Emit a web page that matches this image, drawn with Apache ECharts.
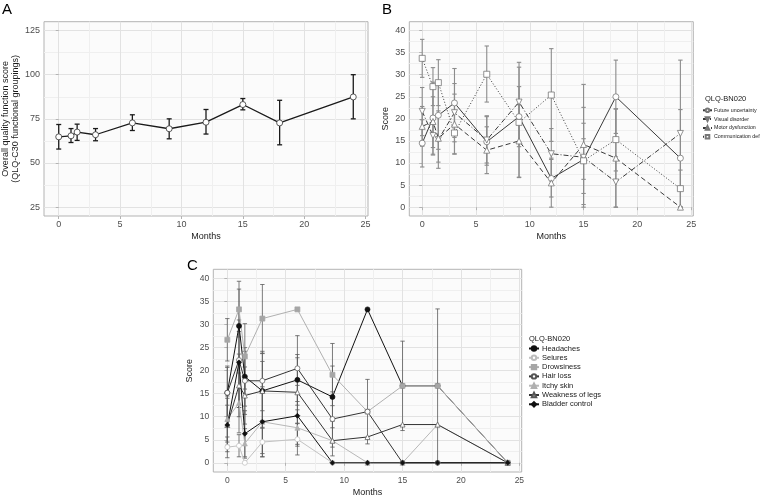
<!DOCTYPE html>
<html><head><meta charset="utf-8">
<script src="https://cdn.jsdelivr.net/npm/echarts@6/dist/echarts.min.js"></script>
<style>html,body{margin:0;padding:0;background:#fff}#c{width:760px;height:498px}</style>
</head><body><div id="c"></div>
<script>
// ---------- DATA ----------
const months = [0, 1, 1.5, 3, 6, 9, 12, 15, 18, 24];
const xTicks = [0, 5, 10, 15, 20, 25];
const xMinor = [2.5, 7.5, 12.5, 17.5, 22.5];
const aTicks = [25, 50, 75, 100, 125];
const aMinor = [37.5, 62.5, 87.5, 112.5];
const sTicks = [0, 5, 10, 15, 20, 25, 30, 35, 40];
const sMinor = [2.5, 7.5, 12.5, 17.5, 22.5, 27.5, 32.5, 37.5];

// Panel A
const aMean = [64.8, 65.4, 67.5, 66.0, 72.7, 69.4, 73.1, 83.1, 72.7, 87.4];
const aLow  = [57.9, 61.6, 62.8, 62.6, 68.4, 63.7, 66.4, 80.1, 60.3, 75.0];
const aHigh = [71.8, 69.5, 72.0, 69.5, 77.3, 75.0, 80.3, 86.5, 85.5, 100.0];

// Panel B
const bNames = ['Future uncertainty', 'Visual disorder', 'Motor dysfunction', 'Communication deficit'];
const bFuture = [14.5, 20.2, 20.8, 23.6, 14.8, 20.5, 6.5, 10.8, 25.0, 11.1];
const bVisual = [21.7, 16.2, 15.3, 21.4, 15.2, 23.8, 12.1, 11.3, 5.7, 16.7];
const bMotor  = [18.3, 19.4, 15.6, 18.8, 12.9, 15.0, 5.5, 14.2, 11.1, 0.0];
const bComm   = [33.7, 27.3, 28.2, 16.8, 30.1, 19.2, 25.4, 10.5, 15.3, 4.2];
const bFutureErr = [[9.1,19.8],[12.0,28.3],[13.1,28.5],[15.8,31.4],[9.5,20.7],[13.7,27.3],[2.3,10.8],[6.3,15.5],[16.7,33.3],[0,22.1]];
const bVisualErr = [[16.2,27.1],[11.8,20.6],[8.8,21.8],[14.8,28.0],[10.0,20.5],[14.8,32.8],[6.4,17.8],[0,22.6],[0,11.4],[0,33.3]];
const bMotorErr  = [[13.8,22.8],[13.5,25.0],[10.2,21.0],[12.0,25.6],[7.6,18.2],[6.8,23.2],[0,11.1],[0.6,27.8],[0,22.2],[0,0]];
const bCommErr   = [[29.4,38.0],[23.0,31.6],[23.0,33.4],[12.1,21.5],[23.8,36.5],[6.7,31.7],[14.9,35.9],[3.1,19.0],[8.2,22.3],[0,8.4]];

// Panel C
const cNames = ['Headaches', 'Seiures', 'Drowsiness', 'Hair loss', 'Itchy skin', 'Weakness of legs', 'Bladder control'];
const cHead   = [15.2, 29.7, 18.7, 15.6, 18.0, 14.3, 33.3, 16.7, 16.7, 0];
const cSeiz   = [3.4, 3.7, 0, 4.5, 5.1, 0, 0, 0, 0, 0];
const cDrow   = [26.7, 33.3, 23.1, 31.3, 33.3, 19.1, 11.1, 16.7, 16.7, 0];
const cHair   = [15.2, 22.3, 17.8, 17.8, 20.5, 9.5, 11.1, 0, 0, 0];
const cItchy  = [9.5, 13.0, 4.2, 8.9, 7.6, 4.8, 0, 0, 8.3, 0];
const cWeak   = [8.2, 16.8, 14.6, 15.6, 15.3, 4.8, 5.6, 8.3, 8.3, 0];
const cBlad   = [8.2, 21.8, 6.3, 8.9, 10.2, 0, 0, 0, 0, 0];
const cHeadErr  = [[9.2,21.0],[21.5,37.7],[12.3,25.0],[7.5,23.7],[12.5,23.5],[7.6,21.0],null,[7.0,26.4],[0,33.4],null];
const cSeizErr  = [[1.1,5.6],[1.3,6.1],null,[1.3,7.7],[1.7,8.5],null,null,null,null,null];
const cDrowErr  = [[22.1,31.3],[27.3,39.4],[16.0,30.2],[23.8,38.7],null,[12.4,25.9],null,null,null,null];
const cHairErr  = [[9.0,20.7],[12.0,28.5],[10.5,24.2],[11.3,24.2],[13.3,27.6],[3.4,15.4],[4.1,18.1],null,null,null];
const cItchyErr = [[4.5,14.5],[6.5,19.5],[1.0,7.4],[1.3,16.5],[4.0,11.5],null,null,null,null,null];
const cWeakErr  = [[3.8,12.5],[10.0,23.6],[8.4,20.8],[9.2,22.0],[8.6,22.8],[1.5,9.0],null,null,null,null];
const cBladErr  = [[2.4,14.0],[12.0,31.0],[1.3,11.3],[2.0,15.8],[3.6,16.8],null,null,null,null,null];

// ---------- HELPERS ----------
const pairs = (ys) => months.map((m, i) => [m, ys[i]]);
const errData = (lo, hi) => months.map((m, i) => [m, lo[i], hi[i]]);
const errData2 = (arr) => months.map((m, i) => arr[i] ? [m, arr[i][0], arr[i][1]] : null).filter(d => d);

function errRender(color, width, capW) {
  return function (params, api) {
    const x = api.value(0), lo = api.value(1), hi = api.value(2);
    const p1 = api.coord([x, lo]), p2 = api.coord([x, hi]);
    const style = { stroke: color, lineWidth: width, fill: null };
    return { type: 'group', children: [
      { type: 'line', shape: { x1: p1[0], y1: p1[1], x2: p2[0], y2: p2[1] }, style },
      { type: 'line', shape: { x1: p1[0] - capW, y1: p1[1], x2: p1[0] + capW, y2: p1[1] }, style },
      { type: 'line', shape: { x1: p2[0] - capW, y1: p2[1], x2: p2[0] + capW, y2: p2[1] }, style }
    ]};
  };
}

const FONT = 'Liberation Sans, Arial, sans-serif';
const gridStyle = { show: true, backgroundColor: '#fbfbfb', borderColor: '#b3b3b3', borderWidth: 1 };

function mainX(gi, labelSize) {
  return { type: 'value', gridIndex: gi, min: -1.2, max: 25.2,
    name: 'Months', nameLocation: 'middle', nameGap: 16,
    nameTextStyle: { fontFamily: FONT, fontSize: 9, color: '#1a1a1a' },
    axisLine: { show: false },
    axisTick: { show: true, length: 3, lineStyle: { color: '#b3b3b3' }, customValues: xTicks },
    axisLabel: { show: true, fontFamily: FONT, fontSize: labelSize, color: '#4d4d4d', margin: 4, customValues: xTicks },
    splitLine: { show: true, lineStyle: { color: '#e2e2e2', width: 1 } } };
}
function minorX(gi) {
  return { type: 'value', gridIndex: gi, min: -1.2, max: 25.2, position: 'bottom',
    axisLine: { show: false }, axisTick: { show: false, customValues: xMinor },
    axisLabel: { show: false, customValues: xMinor },
    splitLine: { show: true, lineStyle: { color: '#efefef', width: 1 } } };
}
function mainY(gi, min, max, ticks, name, gap, labelSize) {
  return { type: 'value', gridIndex: gi, min: min, max: max,
    name: name, nameLocation: 'middle', nameGap: gap, nameRotate: 90,
    nameTextStyle: { fontFamily: FONT, fontSize: 9, color: '#1a1a1a', lineHeight: 10 },
    axisLine: { show: false },
    axisTick: { show: true, length: 3, lineStyle: { color: '#b3b3b3' }, customValues: ticks },
    axisLabel: { show: true, fontFamily: FONT, fontSize: labelSize, color: '#4d4d4d', margin: 4, customValues: ticks },
    splitLine: { show: true, lineStyle: { color: '#e2e2e2', width: 1 } } };
}
function minorY(gi, min, max, ticks) {
  return { type: 'value', gridIndex: gi, min: min, max: max, position: 'left',
    axisLine: { show: false }, axisTick: { show: false, customValues: ticks },
    axisLabel: { show: false, customValues: ticks },
    splitLine: { show: true, lineStyle: { color: '#efefef', width: 1 } } };
}

const series = [];
// ---- Panel A ----
series.push({ type: 'custom', name: 'A_err', xAxisIndex: 0, yAxisIndex: 0, silent: true, z: 3,
  renderItem: errRender('#1a1a1a', 1.3, 2.5), encode: { x: 0, y: [1, 2] }, data: errData(aLow, aHigh) });
series.push({ type: 'line', name: 'Overall', xAxisIndex: 0, yAxisIndex: 0, z: 4,
  data: pairs(aMean), symbol: 'circle', symbolSize: 6,
  lineStyle: { color: '#1a1a1a', width: 1.3 },
  itemStyle: { color: '#ffffff', borderColor: '#333', borderWidth: 0.8 } });

// ---- Panel B ----
const bSets = [
  [bNames[0], bFuture, bFutureErr, 'circle', 'solid'],
  [bNames[1], bVisual, bVisualErr, 'path://M0,0 L10,0 L5,9 Z', [5, 2, 1, 2]],
  [bNames[2], bMotor, bMotorErr, 'triangle', [5, 3]],
  [bNames[3], bComm, bCommErr, 'rect', [1, 2]]
];
bSets.forEach(s => {
  series.push({ type: 'custom', name: s[0] + '_err', xAxisIndex: 2, yAxisIndex: 2, silent: true, z: 2,
    renderItem: errRender('#8c8c8c', 1.1, 2.2), encode: { x: 0, y: [1, 2] }, data: errData2(s[2]) });
});
bSets.forEach(s => {
  series.push({ type: 'line', name: s[0], xAxisIndex: 2, yAxisIndex: 2, z: 4,
    data: pairs(s[1]), symbol: s[3], symbolSize: 6,
    lineStyle: { color: '#3a3a3a', width: 1, type: s[4] },
    itemStyle: { color: '#ffffff', borderColor: '#777', borderWidth: 0.8 } });
});

// ---- Panel C ----
const cSets = [
  [cNames[0], cHead, cHeadErr, 'circle', '#111111', '#111111', '#111111'],
  [cNames[1], cSeiz, cSeizErr, 'circle', '#c2c2c2', '#ffffff', '#bdbdbd'],
  [cNames[2], cDrow, cDrowErr, 'rect', '#b0b0b0', '#a6a6a6', '#a6a6a6'],
  [cNames[3], cHair, cHairErr, 'circle', '#333333', '#ffffff', '#555555'],
  [cNames[4], cItchy, cItchyErr, 'triangle', '#b8b8b8', '#b0b0b0', '#b0b0b0'],
  [cNames[5], cWeak, cWeakErr, 'triangle', '#333333', '#ffffff', '#555555'],
  [cNames[6], cBlad, cBladErr, 'diamond', '#111111', '#111111', '#111111']
];
cSets.forEach(s => {
  series.push({ type: 'custom', name: s[0] + '_err', xAxisIndex: 4, yAxisIndex: 4, silent: true, z: 2,
    renderItem: errRender('#5a5a5a', 0.8, 2.2), encode: { x: 0, y: [1, 2] }, data: errData2(s[2]) });
});
cSets.forEach(s => {
  series.push({ type: 'line', name: s[0], xAxisIndex: 4, yAxisIndex: 4, z: 4,
    data: pairs(s[1]), symbol: s[3], symbolSize: 5,
    lineStyle: { color: s[4], width: 1 },
    itemStyle: { color: s[5], borderColor: s[6], borderWidth: 0.7 } });
});

const option = {
  animation: false,
  backgroundColor: '#ffffff',
  textStyle: { fontFamily: FONT },
  grid: [
    Object.assign({ left: 39.3, top: 21.7, width: 328.7, height: 194.3 }, gridStyle),
    Object.assign({ left: 409.3, top: 21.7, width: 284, height: 194.3 }, gridStyle),
    Object.assign({ left: 213.3, top: 269.3, width: 308.4, height: 204 }, gridStyle)
  ],
  xAxis: [mainX(0, 9), minorX(0), mainX(1, 9), minorX(1), mainX(2, 8.5), minorX(2)],
  yAxis: [
    mainY(0, 20, 130, aTicks, 'Overall quality function score\n(QLQ-C30 functional groupings)', 23, 9),
    minorY(0, 20, 130, aMinor),
    mainY(1, -2, 42, sTicks, 'Score', 19, 9), minorY(1, -2, 42, sMinor),
    mainY(2, -2, 42, sTicks, 'Score', 19, 8.5), minorY(2, -2, 42, sMinor)
  ],
  legend: [
    { data: bNames, orient: 'vertical', left: 702, top: 107.5, itemWidth: 9, itemHeight: 4.5, itemGap: 3.2,
      textStyle: { fontSize: 5.3, color: '#1a1a1a', lineHeight: 5, padding: [0, 0, 0, -3] }, padding: 0 },
    { data: cNames, orient: 'vertical', left: 528, top: 344.5, itemWidth: 10, itemHeight: 5.5, itemGap: 1.3,
      textStyle: { fontSize: 7.5, color: '#1a1a1a', lineHeight: 7, padding: [0, 0, 0, -2] }, padding: 0 }
  ],
  graphic: [
    { type: 'text', left: 2, top: 2, style: { text: 'A', fontSize: 15, fontFamily: FONT, fill: '#000' } },
    { type: 'text', left: 382, top: 2, style: { text: 'B', fontSize: 15, fontFamily: FONT, fill: '#000' } },
    { type: 'text', left: 187, top: 258, style: { text: 'C', fontSize: 15, fontFamily: FONT, fill: '#000' } },
    { type: 'text', left: 705, top: 95, style: { text: 'QLQ-BN020', fontSize: 7.5, fontFamily: FONT, fill: '#1a1a1a' } },
    { type: 'text', left: 529, top: 335, style: { text: 'QLQ-BN020', fontSize: 7.5, fontFamily: FONT, fill: '#1a1a1a' } }
  ],
  series: series
};
const chart = echarts.init(document.getElementById('c'), null, { renderer: 'canvas' });
chart.setOption(option);
</script>
</body></html>
